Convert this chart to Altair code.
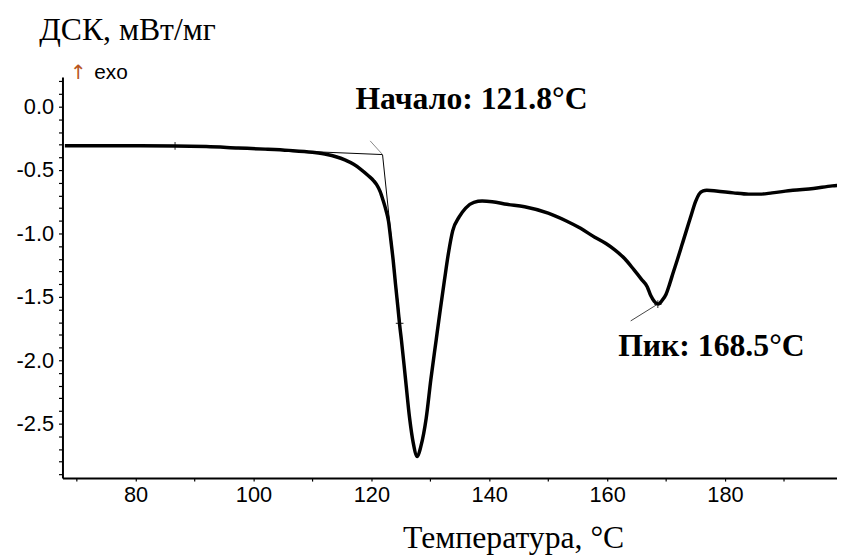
import altair as alt
import pandas as pd

# ---- data ----
temp = [68.0, 75.0, 80.0, 86.7, 92.0, 97.4, 102.0, 106.0, 110.0, 112.5, 114.0, 115.5,
        117.0, 118.1, 119.5, 120.4, 120.9, 121.5, 122.0, 122.5, 122.9, 123.3, 123.7,
        124.1, 124.5, 124.8, 125.1, 125.8, 126.5, 127.1, 127.8, 128.4, 129.3, 130.1,
        131.0, 131.7, 132.4, 133.1, 133.8, 134.9, 136.0, 137.4, 138.8, 140.5, 143.0,
        146.0, 150.0, 153.0, 155.5, 157.9, 159.8, 161.3, 163.0, 164.6, 165.8, 166.8,
        167.4, 168.0, 168.7, 169.3, 170.0, 170.6, 171.2, 171.9, 172.7, 173.5, 174.3,
        175.0, 175.6, 176.3, 176.9, 178.5, 181.4, 184.0, 185.9, 188.0, 191.5, 195.0,
        198.2, 199.5]
dsc = [-0.308, -0.308, -0.309, -0.310, -0.315, -0.326, -0.335, -0.345, -0.360, -0.377,
       -0.395, -0.420, -0.455, -0.490, -0.545, -0.585, -0.615, -0.670, -0.740, -0.820,
       -0.900, -1.050, -1.210, -1.400, -1.580, -1.720, -1.840, -2.150, -2.460, -2.650,
       -2.760, -2.680, -2.460, -2.150, -1.840, -1.600, -1.370, -1.150, -0.980, -0.870,
       -0.800, -0.755, -0.745, -0.750, -0.770, -0.790, -0.840, -0.900, -0.960, -1.030,
       -1.080, -1.130, -1.200, -1.290, -1.360, -1.420, -1.490, -1.535, -1.557, -1.530,
       -1.480, -1.400, -1.310, -1.210, -1.090, -0.970, -0.850, -0.750, -0.690, -0.665,
       -0.660, -0.665, -0.680, -0.690, -0.690, -0.680, -0.660, -0.645, -0.625, -0.620]

# construction lines (onset tangents and label pointers)
seg_id = ["base", "base", "steep", "steep", "onset_ptr", "onset_ptr", "peak_ptr", "peak_ptr"]
seg_t = [95.0, 121.9, 121.9, 124.9, 119.8, 121.9, 164.0, 168.6]
seg_v = [-0.326, -0.378, -0.378, -1.71, -0.27, -0.378, -1.69, -1.557]
seg_col = ["#000000", "#000000", "#000000", "#000000", "#888888", "#888888", "#444444", "#444444"]

mark_t = [86.7, 124.8, 168.6]
mark_v = [-0.310, -1.71, -1.557]

label_text = ["Начало: 121.8°C", "Пик: 168.5°C"]
label_t = [137.0, 177.7]
label_v = [-0.016, -1.97]

x_ticks = [70, 80, 90, 100, 110, 120, 130, 140, 150, 160, 170, 180, 190]
y_ticks = [-2.9, -2.8, -2.7, -2.6, -2.5, -2.4, -2.3, -2.2, -2.1, -2.0, -1.9, -1.8,
           -1.7, -1.6, -1.5, -1.4, -1.3, -1.2, -1.1, -1.0, -0.9, -0.8, -0.7, -0.6,
           -0.5, -0.4, -0.3, -0.2, -0.1, 0.0, 0.1, 0.2]

curve = pd.DataFrame({"T": temp, "v": dsc})
segs = pd.DataFrame({"T": seg_t, "v": seg_v, "seg": seg_id, "col": seg_col})
marks = pd.DataFrame({"T": mark_t, "v": mark_v})
labels = pd.DataFrame({"T": label_t, "v": label_v, "txt": label_text})
exo = pd.DataFrame({"T": [73.0], "v": [0.219], "txt": ["exo"]})
arrow = pd.DataFrame({"T": [70.3], "v": [0.219], "txt": ["↑"]})

x_scale = alt.Scale(domain=[67.6, 199.0], nice=False, zero=False)
y_scale = alt.Scale(domain=[-2.93, 0.234], nice=False, zero=False)

SANS = "Liberation Sans"
SERIF = "Liberation Serif"

x_axis = alt.Axis(
    values=x_ticks,
    labelExpr="datum.value % 20 == 0 ? format(datum.value, 'd') : ''",
    title="Температура, °C",
    titleFont=SERIF, titleFontSize=32, titleFontWeight="normal", titleColor="black",
    titleAlign="center", titleBaseline="alphabetic", titleX=455, titleY=70,
    labelFont=SANS, labelFontSize=22, labelColor="black", labelPadding=4,
    tickSize=3, tickColor="black", tickWidth=1.2,
    domainColor="black", domainWidth=2, grid=False, labelFlush=False,
)
y_axis = alt.Axis(
    values=y_ticks,
    labelExpr="abs(datum.value*2 - round(datum.value*2)) < 0.01 ? ((datum.value < -0.001 ? '-' : '') + format(abs(datum.value), '.1f')) : ''",
    title="ДСК, мВт/мг",
    titleFont=SERIF, titleFontSize=32, titleFontWeight="normal", titleColor="black",
    titleAngle=0, titleAlign="left", titleBaseline="alphabetic", titleX=-24, titleY=-38,
    labelFont=SANS, labelFontSize=22, labelColor="black", labelPadding=5,
    tickSize=4, tickColor="black", tickWidth=1.2,
    domainColor="black", domainWidth=2, grid=False, labelFlush=False,
)

X = alt.X("T:Q", scale=x_scale, axis=x_axis)
Y = alt.Y("v:Q", scale=y_scale, axis=y_axis)

line = alt.Chart(curve).mark_line(color="black", strokeWidth=3.5, interpolate="monotone", clip=True).encode(x=X, y=Y)

tang = alt.Chart(segs).mark_line(strokeWidth=1, clip=True).encode(
    x=X, y=Y, detail="seg:N", color=alt.Color("col:N", scale=None)
)

cross = alt.Chart(marks).mark_point(
    shape="M-1,0L1,0M0,-1L0,1", size=60, filled=False, color="black", strokeWidth=1.2
).encode(x=X, y=Y)

lab = alt.Chart(labels).mark_text(
    font=SERIF, fontSize=32, fontWeight="bold", color="black", align="center", baseline="alphabetic"
).encode(x=X, y=Y, text="txt:N")

exo_t = alt.Chart(exo).mark_text(
    font=SANS, fontSize=21, color="black", align="left", baseline="alphabetic"
).encode(x=X, y=Y, text="txt:N")

arrow_t = alt.Chart(arrow).mark_text(
    font="DejaVu Sans", fontSize=20, color="#b8561e", align="center", baseline="alphabetic"
).encode(x=X, y=Y, text="txt:N")

chart = alt.layer(tang, line, cross, lab, exo_t, arrow_t).properties(
    width=782, height=405,
    autosize=alt.AutoSizeParams(type="none"),
    padding={"left": 55, "top": 67, "right": 0, "bottom": 78},
    background="white",
).configure_view(stroke=None)

chart.save("out.html", embed_options={"renderer": "svg", "actions": False})
